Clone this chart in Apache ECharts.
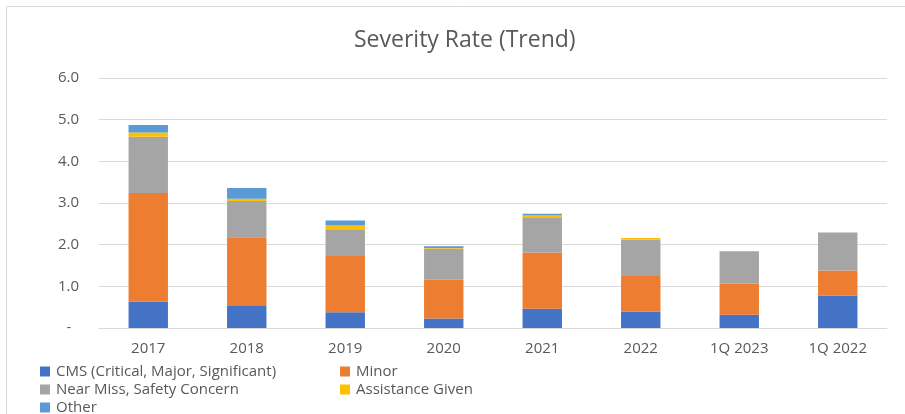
<!DOCTYPE html>
<html>
<head>
<meta charset="utf-8">
<title>Severity Rate (Trend)</title>
<script src="https://cdn.jsdelivr.net/npm/echarts@6/dist/echarts.min.js"></script>
<style>
    html, body { margin: 0; padding: 0; background: #fff; }
    #main { width: 905px; height: 414px; }
</style>
</head>
<body>
<div id="main"></div>
<script>
// 数据
var categories = ['2017', '2018', '2019', '2020', '2021', '2022', '1Q 2023', '1Q 2022'];
var cmsData    = [0.63, 0.53, 0.38, 0.23, 0.46, 0.39, 0.32, 0.78];
var minorData  = [2.61, 1.65, 1.35, 0.93, 1.35, 0.86, 0.75, 0.60];
var nearData   = [1.35, 0.87, 0.64, 0.75, 0.85, 0.87, 0.77, 0.91];
var assistData = [0.10, 0.05, 0.09, 0.01, 0.04, 0.04, 0, 0];
var otherData  = [0.18, 0.26, 0.12, 0.04, 0.04, 0, 0, 0];
var seriesNames = ['CMS (Critical, Major, Significant)', 'Minor', 'Near Miss, Safety Concern', 'Assistance Given', 'Other'];

var fontFamily = '"Open Sans", "Liberation Sans", sans-serif';
var textColor = '#595959';

function getChart() {
    var myChart = echarts.init(document.getElementById('main'));
    var colorList = ['#4472C4', '#ED7D31', '#A5A5A5', '#FFC000', '#5B9BD5'];
    var dataList = [cmsData, minorData, nearData, assistData, otherData];

    var series = [];
    for (var i = 0; i < seriesNames.length; i++) {
        series.push({
            name: seriesNames[i],
            type: 'bar',
            stack: 'total',
            barWidth: '40%',
            itemStyle: { color: colorList[i] },
            data: dataList[i]
        });
    }

    // 图例：两列，每项单独定位
    var legendPos = [[40, 364], [340, 364], [40, 382], [340, 382], [40, 400]];
    var legends = [];
    for (var j = 0; j < seriesNames.length; j++) {
        legends.push({
            left: legendPos[j][0],
            top: legendPos[j][1],
            data: [seriesNames[j]],
            itemWidth: 10,
            itemHeight: 10,
            itemGap: 0,
            padding: 0,
            icon: 'rect',
            textStyle: { color: textColor, fontSize: 15, fontFamily: fontFamily, padding: [0, 0, 0, 1] }
        });
    }

    var option = {
        animation: false,
        color: colorList,
        title: {
            text: 'Severity Rate (Trend)',
            left: 349,
            top: 24,
            textStyle: { color: textColor, fontSize: 23, fontWeight: 'normal', fontFamily: fontFamily }
        },
        // 外框
        graphic: [{
            type: 'rect',
            shape: { x: 6.5, y: 6.5, width: 940, height: 440 },
            style: { fill: 'none', stroke: '#d9d9d9', lineWidth: 1 },
            silent: true
        }],
        legend: legends,
        grid: { left: 99, right: 18, top: 78, height: 250, containLabel: false },
        xAxis: {
            type: 'category',
            data: categories,
            axisLine: { lineStyle: { color: '#d9d9d9' } },
            axisTick: { show: false },
            axisLabel: { color: textColor, fontSize: 15, fontFamily: fontFamily, margin: 13 }
        },
        yAxis: {
            type: 'value',
            min: 0,
            max: 6,
            interval: 1,
            axisLine: { show: false },
            axisTick: { show: false },
            splitLine: { lineStyle: { color: '#d9d9d9' } },
            axisLabel: {
                color: textColor,
                fontSize: 15,
                fontFamily: fontFamily,
                margin: 20,
                formatter: function (v) {
                    return v === 0 ? '-  ' : v.toFixed(1);
                }
            }
        },
        series: series
    };
    myChart.setOption(option);
}

getChart();
</script>
</body>
</html>
